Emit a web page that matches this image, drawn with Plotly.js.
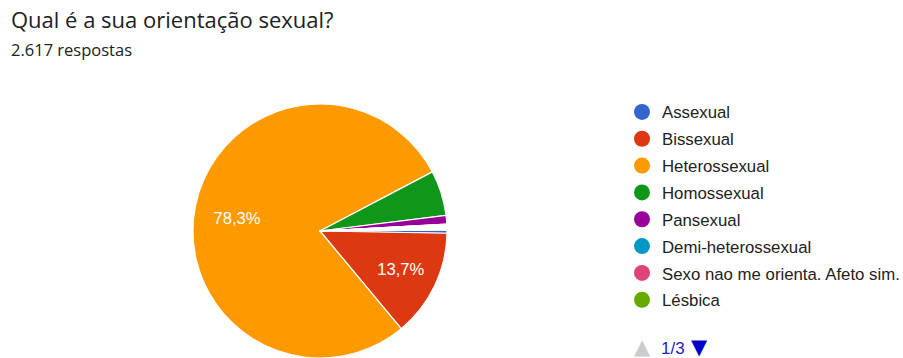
<!DOCTYPE html>
<html>
<head>
<meta charset="utf-8">
<script src="https://cdn.plot.ly/plotly-3.0.1.min.js"></script>
<style>
  html, body { margin: 0; padding: 0; background: #fff; }
  #chart { width: 903px; height: 358px; }
</style>
</head>
<body>
<div id="chart"></div>
<script>
// ---- Data ----
const chartTitle = 'Qual é a sua orientação sexual?';
const totalResponses = 2617;
const responsesLabel = '2.617 respostas';
const labels = ['Assexual', 'Bissexual', 'Heterossexual', 'Homossexual', 'Pansexual',
                'Demi-heterossexual', 'Sexo nao me orienta. Afeto sim.', 'Lésbica'];
const counts = [11, 358, 2050, 150, 29, 1, 1, 1];
const colors = ['#3366cc', '#dc3912', '#ff9900', '#109618', '#990099',
                '#0099c6', '#dd4477', '#66aa00'];
// answers listed on legend pages 2-3 (not visible) – aggregated
const otherPagesCount = totalResponses - counts.reduce((a, b) => a + b, 0);
const pagerText = '1/3';

// ---- Build traces ----
const pieValues = counts.concat([otherPagesCount]);
const pieColors = colors.concat(['#ffffff']);
const pieLabels = labels.concat(['(outras)']);
const pieText = pieValues.map(v => {
  const p = v / totalResponses * 100;
  if (p < 10) return '';
  const s = p.toFixed(1).replace('.', ',') + '%';
  // the label of the majority slice sits further out from the centre in the original
  return p > 50 ? s + '\u00a0'.repeat(9) : s;
});

const pie = {
  type: 'pie',
  labels: pieLabels,
  values: pieValues,
  sort: false,
  direction: 'clockwise',
  rotation: 89.5,
  marker: { colors: pieColors, line: { color: '#ffffff', width: 1.2 } },
  text: pieText,
  textinfo: 'text',
  textposition: 'inside',
  insidetextorientation: 'horizontal',
  textfont: { color: '#ffffff', size: 16.6, family: 'Arial, "Liberation Sans", sans-serif' },
  hoverinfo: 'label+value+percent',
  showlegend: false,
  domain: { x: [193 / 903, 447 / 903], y: [0, 254 / 358] }
};

const legendTraces = labels.map((lab, i) => ({
  type: 'scatter',
  mode: 'markers',
  x: [null], y: [null],
  name: lab,
  legendgroup: 'g' + i,
  marker: { color: colors[i], size: 17, symbol: 'circle' },
  showlegend: true,
  hoverinfo: 'skip'
}));

const layout = {
  width: 903,
  height: 358,
  margin: { l: 0, r: 0, t: 0, b: 0, autoexpand: false },
  paper_bgcolor: '#ffffff',
  plot_bgcolor: '#ffffff',
  font: { family: 'Arial, "Liberation Sans", sans-serif', color: '#222222' },
  xaxis: { visible: false, domain: [0.99, 1] },
  yaxis: { visible: false, domain: [0.99, 1] },
  showlegend: true,
  legend: {
    x: 622 / 903, xanchor: 'left',
    y: (358 - 94.5) / 358, yanchor: 'top',
    font: { size: 16.8, color: '#222222', family: 'Arial, "Liberation Sans", sans-serif' },
    tracegroupgap: 2,
    itemsizing: 'trace',
    bgcolor: 'rgba(0,0,0,0)',
    traceorder: 'grouped'
  },
  annotations: [
    { text: chartTitle, xref: 'paper', yref: 'paper', x: 9 / 903, y: 1 - 2 / 358,
      xanchor: 'left', yanchor: 'top', showarrow: false,
      font: { size: 22, color: '#202124', family: '"Open Sans", Roboto, sans-serif' } },
    { text: responsesLabel, xref: 'paper', yref: 'paper', x: 9 / 903, y: 1 - 36 / 358,
      xanchor: 'left', yanchor: 'top', showarrow: false,
      font: { size: 16.5, color: '#202124', family: '"Open Sans", Roboto, sans-serif' } },
    { text: '▲', xref: 'paper', yref: 'paper', x: 642 / 903, y: (358 - 347) / 358,
      xanchor: 'center', yanchor: 'middle', showarrow: false,
      font: { size: 21, color: '#cccccc', family: 'DejaVu Sans' } },
    { text: pagerText, xref: 'paper', yref: 'paper', x: 659 / 903, y: (358 - 348) / 358,
      xanchor: 'left', yanchor: 'middle', showarrow: false,
      font: { size: 17, color: '#2222cc', family: 'Arial, "Liberation Sans", sans-serif' } },
    { text: '▼', xref: 'paper', yref: 'paper', x: 699.5 / 903, y: (358 - 347) / 358,
      xanchor: 'center', yanchor: 'middle', showarrow: false,
      font: { size: 21, color: '#0000cc', family: 'DejaVu Sans' } }
  ]
};

Plotly.newPlot('chart', [pie].concat(legendTraces), layout, { displayModeBar: false, staticPlot: true });
</script>
</body>
</html>
